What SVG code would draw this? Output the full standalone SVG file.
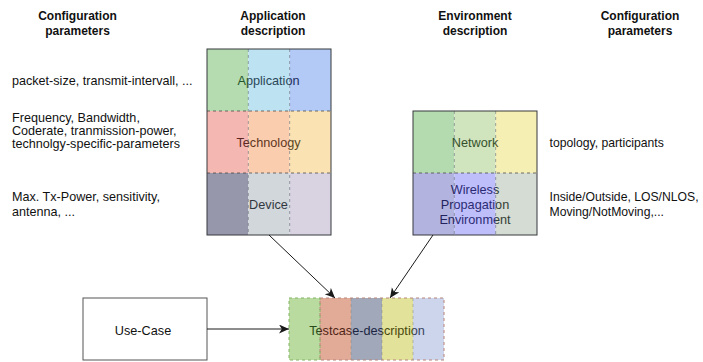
<svg xmlns="http://www.w3.org/2000/svg" width="703" height="362" viewBox="0 0 703 362">
<style>
text{font-family:"Liberation Sans",Arial,Helvetica,sans-serif;fill:#111}
.h{font-weight:bold;font-size:12px;text-anchor:middle}
.p{font-size:12.6px}
.r{font-size:12.2px}
.l{font-size:12.7px;text-anchor:middle}
.outer{fill:none;stroke:#36393d;stroke-width:1}
.div{fill:none;stroke:#55606e;stroke-opacity:.55;stroke-dasharray:3 3}
.conn{fill:none;stroke:#1a1a1a;stroke-width:1}
</style>
<defs>
<marker id="arr" markerUnits="userSpaceOnUse" markerWidth="12" markerHeight="10" refX="10" refY="4.5" orient="auto">
<path d="M0,0 L10,4.5 L0,9 L2.8,4.5 Z" fill="#1a1a1a"/>
</marker>
<linearGradient id="gApp" gradientUnits="userSpaceOnUse" x1="207" y1="0" x2="331" y2="0">
<stop offset="0" stop-color="#24542a"/><stop offset=".333" stop-color="#24542a"/>
<stop offset=".333" stop-color="#2a4656"/><stop offset=".667" stop-color="#2a4656"/>
<stop offset=".667" stop-color="#1f2d5c"/><stop offset="1" stop-color="#1f2d5c"/>
</linearGradient>
<linearGradient id="gTech" gradientUnits="userSpaceOnUse" x1="207" y1="0" x2="331" y2="0">
<stop offset="0" stop-color="#5c2622"/><stop offset=".333" stop-color="#5c2622"/>
<stop offset=".333" stop-color="#5c3420"/><stop offset=".667" stop-color="#5c3420"/>
<stop offset=".667" stop-color="#5a4420"/><stop offset="1" stop-color="#5a4420"/>
</linearGradient>
<linearGradient id="gDev" gradientUnits="userSpaceOnUse" x1="207" y1="0" x2="331" y2="0">
<stop offset="0" stop-color="#202030"/><stop offset=".333" stop-color="#202030"/>
<stop offset=".333" stop-color="#30363e"/><stop offset=".667" stop-color="#30363e"/>
<stop offset=".667" stop-color="#3a3448"/><stop offset="1" stop-color="#3a3448"/>
</linearGradient>
<linearGradient id="gNet" gradientUnits="userSpaceOnUse" x1="413" y1="0" x2="537" y2="0">
<stop offset="0" stop-color="#24502a"/><stop offset=".333" stop-color="#24502a"/>
<stop offset=".333" stop-color="#34502a"/><stop offset=".667" stop-color="#34502a"/>
<stop offset=".667" stop-color="#4e4a1e"/><stop offset="1" stop-color="#4e4a1e"/>
</linearGradient>
<linearGradient id="gWir" gradientUnits="userSpaceOnUse" x1="413" y1="0" x2="537" y2="0">
<stop offset="0" stop-color="#22225c"/><stop offset=".333" stop-color="#22225c"/>
<stop offset=".333" stop-color="#2a2a72"/><stop offset=".667" stop-color="#2a2a72"/>
<stop offset=".667" stop-color="#313c34"/><stop offset="1" stop-color="#313c34"/>
</linearGradient>
<linearGradient id="gTest" gradientUnits="userSpaceOnUse" x1="289" y1="0" x2="444" y2="0">
<stop offset="0" stop-color="#2a4a1a"/><stop offset=".2" stop-color="#2a4a1a"/>
<stop offset=".2" stop-color="#4e2418"/><stop offset=".4" stop-color="#4e2418"/>
<stop offset=".4" stop-color="#1c2442"/><stop offset=".6" stop-color="#1c2442"/>
<stop offset=".6" stop-color="#46460f"/><stop offset=".8" stop-color="#46460f"/>
<stop offset=".8" stop-color="#36405a"/><stop offset="1" stop-color="#36405a"/>
</linearGradient>
</defs>
<rect width="703" height="362" fill="#ffffff"/>

<g id="headers">
<text class="h" x="77.5" y="20">Configuration</text>
<text class="h" x="77.5" y="35">parameters</text>
<text class="h" x="273" y="20">Application</text>
<text class="h" x="273" y="35">description</text>
<text class="h" x="475" y="20">Environment</text>
<text class="h" x="475" y="35">description</text>
<text class="h" x="640" y="20">Configuration</text>
<text class="h" x="640" y="35">parameters</text>
</g>

<g id="app-parameters">
<text class="p" x="12" y="85">packet-size, transmit-intervall, ...</text>
<text class="p" x="12" y="121.5">Frequency, Bandwidth,</text>
<text class="p" x="12" y="134.5">Coderate, tranmission-power,</text>
<text class="p" x="12" y="147.5">technolgy-specific-parameters</text>
<text class="p" x="12" y="201">Max. Tx-Power, sensitivity,</text>
<text class="p" x="12" y="215.5">antenna, ...</text>
</g>

<g id="env-parameters">
<text class="r" x="549.5" y="147">topology, participants</text>
<text class="r" x="549.5" y="201">Inside/Outside, LOS/NLOS,</text>
<text class="r" x="549.5" y="215.5">Moving/NotMoving,...</text>
</g>

<g id="application-description">
<g id="application">
<rect x="207" y="49" width="41.33" height="62" fill="#b4dcb0"/>
<rect x="248.33" y="49" width="41.33" height="62" fill="#bde3f3"/>
<rect x="289.67" y="49" width="41.33" height="62" fill="#b3c9f6"/>
<text class="l" x="268.5" y="85" style="fill:url(#gApp)">Application</text>
</g>
<g id="technology">
<rect x="207" y="111" width="41.33" height="62" fill="#f4b7b1"/>
<rect x="248.33" y="111" width="41.33" height="62" fill="#fbcdaf"/>
<rect x="289.67" y="111" width="41.33" height="62" fill="#fbe2b3"/>
<text class="l" x="268.5" y="147" style="fill:url(#gTech)">Technology</text>
</g>
<g id="device">
<rect x="207" y="173" width="41.33" height="62" fill="#9797ab"/>
<rect x="248.33" y="173" width="41.33" height="62" fill="#d2d7db"/>
<rect x="289.67" y="173" width="41.33" height="62" fill="#d8d2e1"/>
<text class="l" x="268.5" y="209" style="fill:url(#gDev)">Device</text>
</g>
<path class="div" d="M248.33,49 V235 M289.67,49 V235"/>
<path class="div" d="M207,111 H331 M207,173 H331" style="stroke:#3a3a3a;stroke-opacity:.7"/>
<rect class="outer" x="207" y="49" width="124" height="186"/>
</g>

<g id="environment-description">
<g id="network">
<rect x="413" y="111" width="41.33" height="62" fill="#b4dbb0"/>
<rect x="454.33" y="111" width="41.33" height="62" fill="#d0e4bd"/>
<rect x="495.67" y="111" width="41.33" height="62" fill="#f6efb3"/>
<text class="l" x="475" y="147" style="fill:url(#gNet)">Network</text>
</g>
<g id="wireless-propagation-environment">
<rect x="413" y="173" width="41.33" height="62" fill="#b3b3e0"/>
<rect x="454.33" y="173" width="41.33" height="62" fill="#bebefa"/>
<rect x="495.67" y="173" width="41.33" height="62" fill="#d4dcd3"/>
<text class="l" x="475" y="194" style="fill:url(#gWir)">Wireless</text>
<text class="l" x="475" y="209" style="fill:url(#gWir)">Propagation</text>
<text class="l" x="475" y="224" style="fill:url(#gWir)">Environment</text>
</g>
<path class="div" d="M454.33,111 V235 M495.67,111 V235"/>
<path class="div" d="M413,173 H537" style="stroke:#3a3a3a;stroke-opacity:.7"/>
<rect class="outer" x="413" y="111" width="124" height="124"/>
</g>

<g id="use-case">
<rect x="83" y="298" width="124" height="62" fill="#ffffff" stroke="#555" stroke-width="1"/>
<text class="l" x="143" y="334.5">Use-Case</text>
</g>

<g id="testcase-description">
<rect x="289" y="298" width="31" height="62" fill="#b9dba0"/>
<rect x="320" y="298" width="31" height="62" fill="#e2ab98"/>
<rect x="351" y="298" width="31" height="62" fill="#a1a8ba"/>
<rect x="382" y="298" width="31" height="62" fill="#e2e29b"/>
<rect x="413" y="298" width="31" height="62" fill="#cdd5ec"/>
<rect x="320" y="298" width="124" height="62" fill="none" stroke="#b8847a" stroke-dasharray="3 3"/>
<path d="M382,298 V360 M413,298 V360 M351,298 V360" fill="none" stroke="#8a8a7a" stroke-opacity=".5" stroke-dasharray="3 3"/>
<rect x="289" y="298" width="31" height="62" fill="none" stroke="#82b366" stroke-dasharray="3 3"/>
<text class="l" x="367" y="334.5" style="fill:url(#gTest)">Testcase-description</text>
</g>

<g id="connectors">
<path class="conn" d="M269,235 L335,298" marker-end="url(#arr)"/>
<path class="conn" d="M433,235 L390,298" marker-end="url(#arr)"/>
<path class="conn" d="M207,329 L289,329" marker-end="url(#arr)"/>
</g>
</svg>
